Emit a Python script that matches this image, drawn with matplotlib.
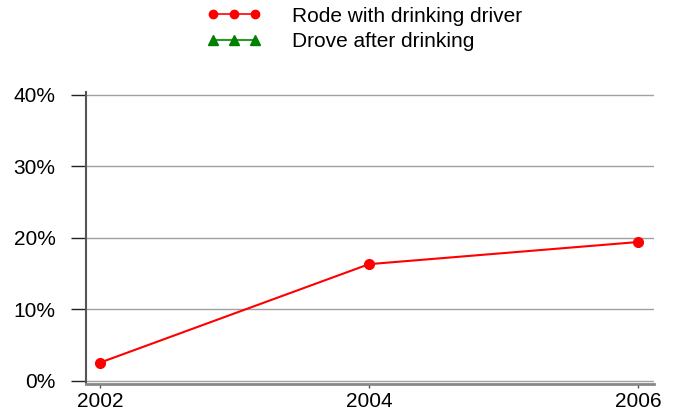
import numpy as np
import matplotlib
matplotlib.use("Agg")
import matplotlib.pyplot as plt
from matplotlib.ticker import FuncFormatter
from matplotlib.lines import Line2D

plt.rcParams['font.family'] = ['Liberation Sans', 'DejaVu Sans']

years = [2002, 2004, 2006]
rode_with_drinking = [2.5, 16.3, 19.4]
drove_after_drinking = [np.nan, np.nan, np.nan]
y_ticks = [0, 10, 20, 30, 40]

fig = plt.figure(figsize=(6.74, 4.16), dpi=100)
W, H = 674, 416
ax = fig.add_axes([86 / W, (416 - 384) / H, (654 - 86) / W, (384 - 92) / H])

ax.plot(years, rode_with_drinking, color='red', lw=1.5, marker='o', ms=7,
        label='Rode with drinking driver', zorder=3)
ax.plot(years, drove_after_drinking, color='green', lw=1.0, marker='^', ms=6,
        label='Drove after drinking', zorder=3)

ax.set_xlim(2001.896, 2006.119)
ax.set_ylim(-0.49, 40.42)
ax.set_xticks(years)
ax.set_yticks(y_ticks)
ax.yaxis.set_major_formatter(FuncFormatter(lambda v, p: f'{v:.0f}%'))

for v in y_ticks:
    ax.axhline(v, color='#a0a0a0', lw=1.0, zorder=1)

ax.tick_params(axis='y', length=11, width=1.0, color='#222222', pad=11, labelsize=15)
ax.tick_params(axis='x', length=3, width=1.0, color='#555555', pad=3, labelsize=15)

for s in ['top', 'right']:
    ax.spines[s].set_visible(False)
ax.spines['left'].set_color('#555555')
ax.spines['left'].set_linewidth(1.5)
ax.spines['bottom'].set_color('#888888')
ax.spines['bottom'].set_linewidth(2.0)

# legend handles, a bit smaller than the plotted markers
handles = [
    Line2D([], [], color='red', lw=1.2, marker='o', ms=6),
    Line2D([], [], color='#2a9a2a', lw=1.5, marker='^', mfc='green', mec='green', ms=7),
]
labels = ['Rode with drinking driver', 'Drove after drinking']
fig.legend(handles, labels, loc='upper left', bbox_to_anchor=(188 / W, 1.0 + 12 / H),
           frameon=False, numpoints=3, handlelength=2.6, handletextpad=1.5,
           fontsize=15, labelspacing=0.3)

fig.savefig('out.png', dpi=100)
